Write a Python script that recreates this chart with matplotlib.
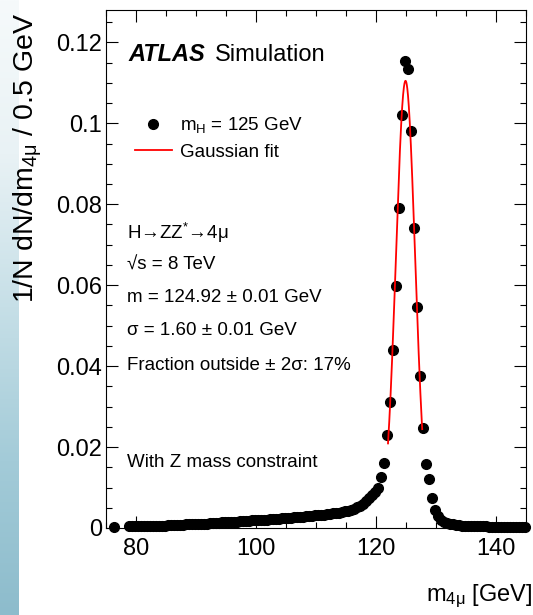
import numpy as np
import matplotlib
matplotlib.use("Agg")
import matplotlib.pyplot as plt
from matplotlib.colors import LinearSegmentedColormap
from matplotlib.ticker import AutoMinorLocator, FixedLocator

# bin centres, 0.5 GeV bins from 75 to 145 GeV
bin_width = 0.5
m4mu = np.arange(75.25, 145.0, bin_width)

# 1/N dN/dm per bin (nan = empty bin, not drawn)
low_edge = [np.nan, np.nan, 0.0002, np.nan, np.nan, np.nan, np.nan,
            0.0004, 0.0004, 0.0004]
low_tail = [
    0.0004, 0.0004, 0.0005, 0.0005, 0.0005, 0.0005, 0.0006, 0.0006, 0.0006, 0.0006,
    0.0007, 0.0007, 0.0007, 0.0008, 0.0008, 0.0008, 0.0009, 0.0009, 0.0009, 0.0010,
    0.0010, 0.0011, 0.0011, 0.0011, 0.0012, 0.0012, 0.0013, 0.0013, 0.0014, 0.0014,
    0.0015, 0.0015, 0.0016, 0.0016, 0.0017, 0.0017, 0.0018, 0.0018, 0.0019, 0.0019,
    0.0020, 0.0020, 0.0021, 0.0021, 0.0022, 0.0022, 0.0023, 0.0023, 0.0024, 0.0024,
    0.0025, 0.0025, 0.0026, 0.0027, 0.0027, 0.0028, 0.0029, 0.0029, 0.0030, 0.0031,
    0.0032, 0.0032, 0.0033, 0.0034, 0.0035, 0.0036, 0.0037, 0.0038, 0.0040, 0.0041,
    0.0043, 0.0045, 0.0048, 0.0051, 0.0055, 0.0060, 0.0066, 0.0073, 0.0081, 0.0090,
]
peak = [
    0.0100, 0.0125, 0.0160, 0.0230, 0.0312, 0.0441, 0.0599, 0.0791, 0.1020, 0.1154,
    0.1133, 0.0980, 0.0741, 0.0545, 0.0376, 0.0248, 0.0158, 0.0120, 0.0075, 0.0045,
    0.0030, 0.0021,
]
high_tail = [
    0.0015, 0.0012, 0.0010, 0.0009, 0.0008, 0.0007, 0.0006, 0.0006,
    0.0005, 0.0005, 0.0005, 0.0004, 0.0004, 0.0004, 0.0004, 0.0003, 0.0003, 0.0003,
    0.0003, 0.0003, 0.0003, 0.0003, 0.0003, 0.0002, 0.0002, 0.0002, 0.0002, 0.0002,
]
density = np.array(low_edge + low_tail + peak + high_tail)

# gaussian fit parameters (from the plot text) and fitted range
fit_mean = 124.92
fit_sigma = 1.60
fit_amp = 0.1105
fit_range = (122.0, 127.7)

xticks = [80, 100, 120, 140]
yticks = [0, 0.02, 0.04, 0.06, 0.08, 0.1, 0.12]
ytick_labels = ["0", "0.02", "0.04", "0.06", "0.08", "0.1", "0.12"]

info_lines = [
    "H\u2192ZZ$^{*}$\u21924\u03bc",
    "\u221as = 8 TeV",
    "m = 124.92 \u00b1 0.01 GeV",
    "\u03c3 = 1.60 \u00b1 0.01 GeV",
    "Fraction outside \u00b1 2\u03c3: 17%",
]

plt.rcParams["font.family"] = ["Liberation Sans", "DejaVu Sans"]
plt.rcParams["mathtext.fontset"] = "custom"
plt.rcParams["mathtext.rm"] = "Liberation Sans"
plt.rcParams["mathtext.it"] = "Liberation Sans:italic"
plt.rcParams["mathtext.bf"] = "Liberation Sans:bold"

W, H = 533, 615
fig = plt.figure(figsize=(W / 100, H / 100), dpi=100)

# slide background strip on the left
bg = fig.add_axes([0, 0, 19 / W, 1])
bg_cmap = LinearSegmentedColormap.from_list(
    "slide", ["#f6fafb", "#e9f2f5", "#c6dfe7", "#a3cbd8", "#8dbccc"]
)
bg.imshow(np.linspace(0, 1, 256).reshape(-1, 1), aspect="auto", cmap=bg_cmap)
bg.set_axis_off()

ax = fig.add_axes([106 / W, 1 - 528 / H, 420 / W, 518 / H])

ax.plot(m4mu, density, ls="none", marker="o", ms=7, color="black",
        clip_on=False, zorder=5, label="m$_{\\mathrm{H}}$ = 125 GeV")

xfit = np.linspace(fit_range[0], fit_range[1], 300)
yfit = fit_amp * np.exp(-0.5 * ((xfit - fit_mean) / fit_sigma) ** 2)
ax.plot(xfit, yfit, color="red", lw=1.3, zorder=6, label="Gaussian fit")

ax.set_xlim(75, 145)
ax.set_ylim(0, 0.128)

ax.xaxis.set_major_locator(FixedLocator(xticks))
ax.xaxis.set_minor_locator(AutoMinorLocator(4))
ax.yaxis.set_major_locator(FixedLocator(yticks))
ax.set_yticklabels(ytick_labels)
ax.yaxis.set_minor_locator(AutoMinorLocator(4))

ax.tick_params(which="both", direction="in", top=True, right=True,
               labelsize=17, width=0.8)
ax.tick_params(which="major", length=8.6)
ax.tick_params(which="minor", length=4.3)
ax.tick_params(axis="x", pad=7)
ax.tick_params(axis="y", pad=3)
for sp in ax.spines.values():
    sp.set_linewidth(0.8)

ax.set_xlabel("m$_{\\mathrm{4\u03bc}}$ [GeV]", fontsize=17, loc="right")
ax.xaxis.set_label_coords(1.015, -0.105)
ax.set_ylabel("1/N dN/dm$_{\\mathrm{4\u03bc}}$ / 0.5 GeV", fontsize=20.5, loc="top")
ax.yaxis.set_label_coords(-0.148, 0.994)

ax.text(0.0524, 0.9025, "ATLAS", fontsize=17, fontweight="bold",
        fontstyle="italic", transform=ax.transAxes)
ax.text(0.2595, 0.9025, "Simulation", fontsize=17, transform=ax.transAxes)

ax.legend(loc="upper left", bbox_to_anchor=(29 / 420, 0.797), frameon=False,
          fontsize=13.5, handlelength=1.97, handletextpad=0.45,
          labelspacing=0.45, borderpad=0, borderaxespad=0, numpoints=1)

info_y = [0.558, 0.498, 0.436, 0.3726, 0.305]
for line, yy in zip(info_lines, info_y):
    ax.text(0.05, yy, line, fontsize=13.5, transform=ax.transAxes, va="baseline")
ax.text(0.05, 0.1178, "With Z mass constraint", fontsize=13.5,
        transform=ax.transAxes, va="baseline")

fig.savefig("out.png", dpi=100)
